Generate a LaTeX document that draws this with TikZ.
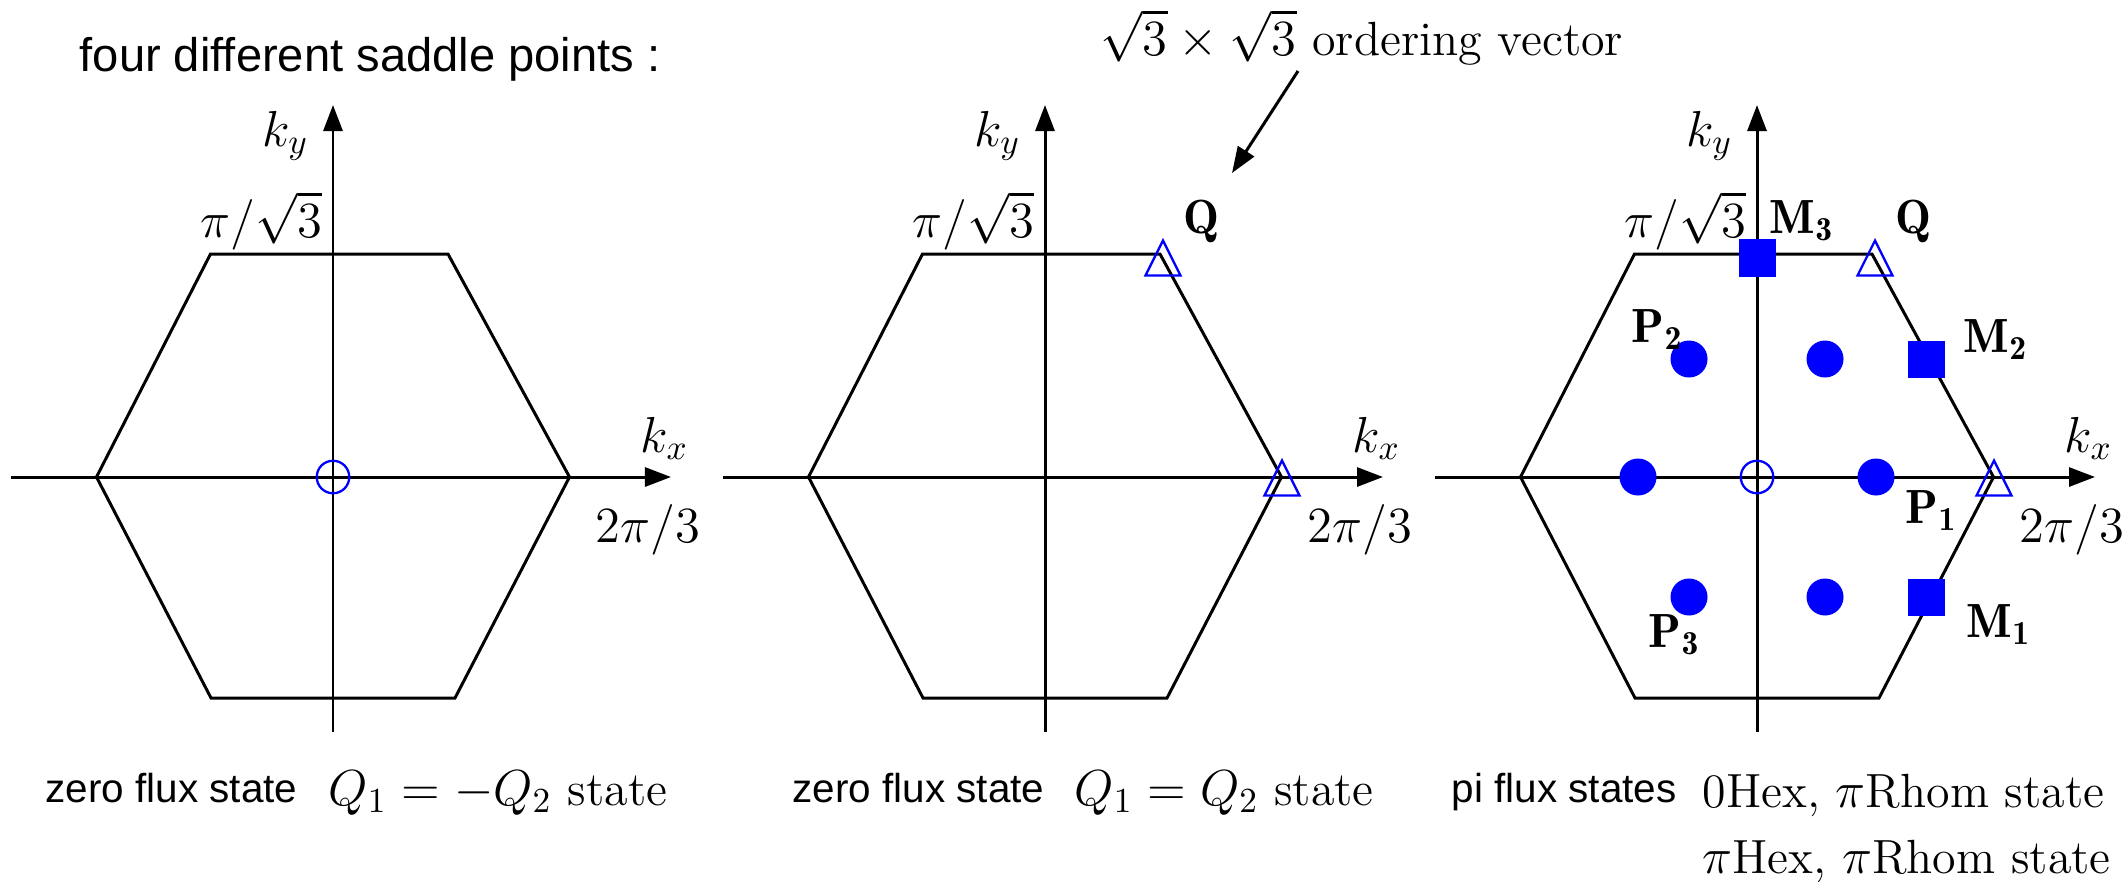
\documentclass[tikz,border=0pt]{standalone}
\usepackage{fontspec}
\newfontfamily\arialf{Liberation Sans}
\usetikzlibrary{arrows.meta}
\begin{document}
\begin{tikzpicture}[x=0.01cm,y=-0.01cm,
  ax/.style={line width=0.85pt,-{Triangle[length=0.26cm,width=0.19cm]}},
  hexs/.style={line width=0.85pt,line join=miter},
  mth/.style={inner sep=0,font=\fontsize{13.65}{16}\selectfont},
  sans/.style={inner sep=0,font=\arialf\fontsize{11.5}{14}\selectfont},
  ttl/.style={inner sep=0,font=\arialf\fontsize{13.4}{16}\selectfont},
  fdot/.style={circle,fill=blue,inner sep=0,minimum size=0.37cm},
  hdot/.style={circle,draw=blue,line width=0.65pt,inner sep=0,minimum size=0.325cm},
  sqm/.style={rectangle,fill=blue,inner sep=0,minimum size=0.37cm},
  trim/.style={draw=blue,line width=0.65pt,line join=miter},
]
\useasboundingbox (0,0) rectangle (2124,881);

% three Brillouin-zone panels
\foreach \i/\ox in {1/333,2/1045,3/1757}{
  \coordinate (o\i) at (\ox,477);
  \coordinate (hL\i) at (\ox-236.5,477);
  \coordinate (hTL\i) at (\ox-122.5,254);
  \coordinate (hTR\i) at (\ox+115,254);
  \coordinate (hR\i) at (\ox+236.5,477);
  \coordinate (hBR\i) at (\ox+122,698);
  \coordinate (hBL\i) at (\ox-122,698);
  \draw[hexs] (hL\i) -- (hTL\i) -- (hTR\i) -- (hR\i) -- (hBR\i) -- (hBL\i) -- cycle;
  \coordinate (xs\i) at (\ox-322,477);
  \coordinate (xe\i) at (\ox+338,477);
  \coordinate (ys\i) at (\ox,732);
  \coordinate (ye\i) at (\ox,105);
  \draw[ax] (xs\i) -- (xe\i);
  \draw[ax] (ys\i) -- (ye\i);
  \node[mth,anchor=base] (ky\i) at (\ox-47.5,146) {$k_y$};
  \node[mth,anchor=base west] (kx\i) at (\ox+307,452) {$k_x$};
  \node[mth,anchor=base east] (pis\i) at (\ox-10,237) {$\pi/\sqrt{3}$};
  \node[mth,anchor=base west] (tpi\i) at (\ox+262,542) {$2\pi/3$};
}

% title
\node[ttl,anchor=base west] (title) at (79,71) {four different saddle points :};

% panel 1
\node[hdot] (g1) at (o1) {};
\node[sans,anchor=base west] (zf1) at (45,802) {zero flux state};
\node[mth,anchor=base west] (st1) at (328,805) {$Q_1=-Q_2$ state};

% panel 2
\coordinate (t2a) at (1163,258);
\coordinate (t2b) at (1282,478);
\draw[trim] (t2a) ++(-17.5,17.5) -- ++(35,0) -- ++(-17.5,-35) -- cycle;
\draw[trim] (t2b) ++(-17.5,17.5) -- ++(35,0) -- ++(-17.5,-35) -- cycle;
\node[mth,anchor=base west] (q2) at (1183,233) {$\mathbf{Q}$};
\node[mth,anchor=base west] (ov) at (1100,55) {$\sqrt{3}\times\sqrt{3}$ ordering vector};
\coordinate (arS) at (1298,71);
\coordinate (arE) at (1232,173);
\draw[ax] (arS) -- (arE);
\node[sans,anchor=base west] (zf2) at (792,802) {zero flux state};
\node[mth,anchor=base west] (st2) at (1074,805) {$Q_1=Q_2$ state};

% panel 3
\node[hdot] (g3) at (o3) {};
\node[fdot] (c1) at (1638,477) {};
\node[fdot] (c2) at (1876,477) {};
\node[fdot] (c3) at (1689,359) {};
\node[fdot] (c4) at (1825,359) {};
\node[fdot] (c5) at (1689,597) {};
\node[fdot] (c6) at (1825,597) {};
\node[sqm] (m3) at (1757,258) {};
\node[sqm] (m2) at (1926,359) {};
\node[sqm] (m1) at (1926,597) {};
\coordinate (t3a) at (1875,258);
\coordinate (t3b) at (1994,478);
\draw[trim] (t3a) ++(-17.5,17.5) -- ++(35,0) -- ++(-17.5,-35) -- cycle;
\draw[trim] (t3b) ++(-17.5,17.5) -- ++(35,0) -- ++(-17.5,-35) -- cycle;
\node[mth,anchor=base west] (lm3) at (1769,233) {$\mathbf{M_3}$};
\node[mth,anchor=base west] (lq3) at (1895,233) {$\mathbf{Q}$};
\node[mth,anchor=base west] (lp2) at (1631,342) {$\mathbf{P_2}$};
\node[mth,anchor=base west] (lm2) at (1963,352) {$\mathbf{M_2}$};
\node[mth,anchor=base west] (lp1) at (1905,523) {$\mathbf{P_1}$};
\node[mth,anchor=base west] (lm1) at (1966,637) {$\mathbf{M_1}$};
\node[mth,anchor=base west] (lp3) at (1648,647) {$\mathbf{P_3}$};
\node[sans,anchor=base west] (pf3) at (1451,802) {pi flux states};
\node[mth,anchor=base west] (st3a) at (1702,807) {0Hex, $\pi$Rhom state};
\node[mth,anchor=base west] (st3b) at (1702,873) {$\pi$Hex, $\pi$Rhom state};
\end{tikzpicture}
\end{document}
